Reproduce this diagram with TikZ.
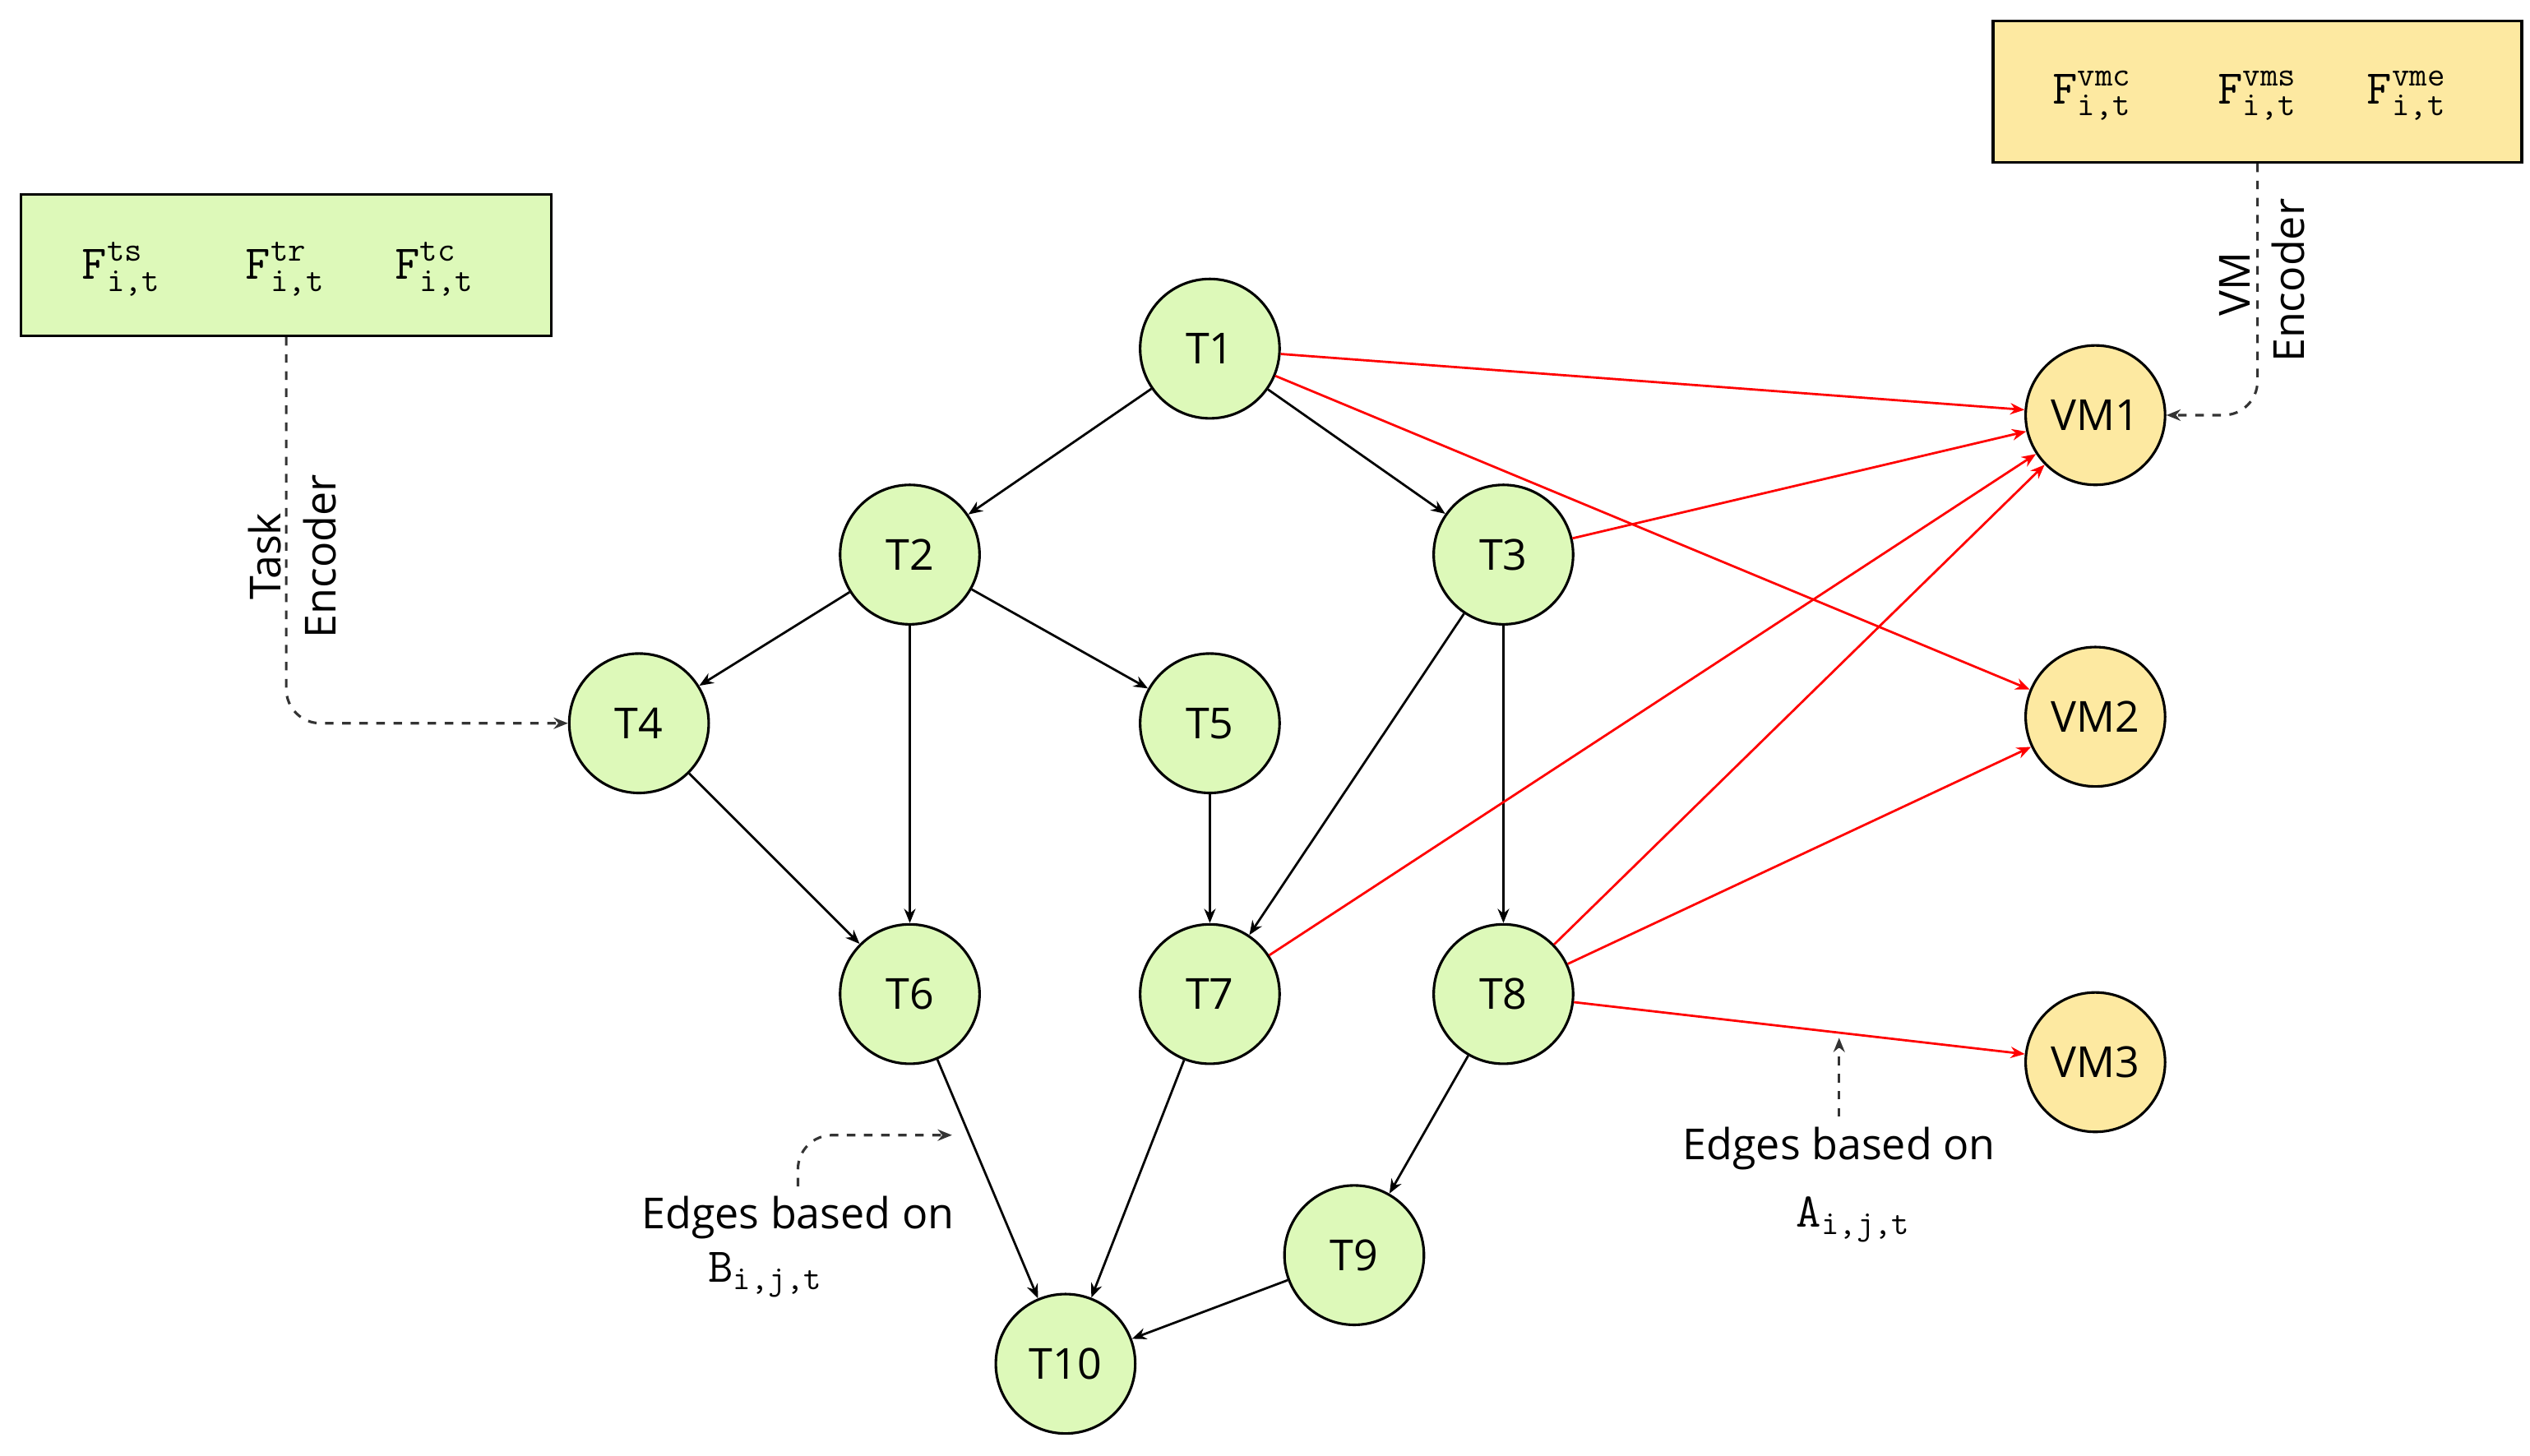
\documentclass[tikz,border=0pt]{standalone}
\usepackage{fontspec}
\setmainfont{Open Sans}
\newfontfamily\ttf{Latin Modern Mono}
\usetikzlibrary{arrows.meta}
\definecolor{gfill}{HTML}{DDF9B9}
\definecolor{yfill}{HTML}{FDE9A1}
\begin{document}
\begin{tikzpicture}[x=0.02cm,y=-0.02cm,
  tn/.style={circle,draw,line width=0.9pt,fill=gfill,minimum size=1.72cm,inner sep=0pt,font=\fontsize{15}{15}\selectfont},
  vn/.style={tn,fill=yfill},
  e/.style={-{Stealth[length=5pt,width=4pt]},line width=0.8pt},
  r/.style={e,red},
  d/.style={-{Stealth[length=5pt,width=4pt]},dashed,line width=0.9pt,black!80,rounded corners=12pt},
  lab/.style={font=\fontsize{15}{15}\selectfont},
  ff/.style={font=\ttf\fontsize{17}{17}\selectfont}]
\useasboundingbox (0,0) rectangle (1560,897.6);
\newcommand{\Fq}[1]{\textbf{F}$^{\raisebox{2pt}{\fontsize{12}{12}\selectfont #1}}_{\fontsize{12}{12}\selectfont i,t}$}
\node[draw,line width=1pt,fill=gfill,minimum width=6.54cm,minimum height=1.74cm] (gb) at (176.5,163.5) {};
\node[ff] (g1) at (75,166) {F$^{\mbox{\fontsize{12}{12}\selectfont ts}}_{\mbox{\fontsize{12}{12}\selectfont i,t}}$};
\node[ff] (g2) at (176,166) {F$^{\mbox{\fontsize{12}{12}\selectfont tr}}_{\mbox{\fontsize{12}{12}\selectfont i,t}}$};
\node[ff] (g3) at (268,166) {F$^{\mbox{\fontsize{12}{12}\selectfont tc}}_{\mbox{\fontsize{12}{12}\selectfont i,t}}$};
\node[draw,line width=1pt,fill=yfill,minimum width=6.52cm,minimum height=1.74cm] (yb) at (1392,56.5) {};
\node[ff] (y1) at (1290,59) {F$^{\mbox{\fontsize{12}{12}\selectfont vmc}}_{\mbox{\fontsize{12}{12}\selectfont i,t}}$};
\node[ff] (y2) at (1392,59) {F$^{\mbox{\fontsize{12}{12}\selectfont vms}}_{\mbox{\fontsize{12}{12}\selectfont i,t}}$};
\node[ff] (y3) at (1484,59) {F$^{\mbox{\fontsize{12}{12}\selectfont vme}}_{\mbox{\fontsize{12}{12}\selectfont i,t}}$};

\node[tn] (T1) at (746,215) {T1};
\node[tn] (T2) at (561,342) {T2};
\node[tn] (T3) at (927,342) {T3};
\node[tn] (T4) at (394,446) {T4};
\node[tn] (T5) at (746,446) {T5};
\node[tn] (T6) at (561,613) {T6};
\node[tn] (T7) at (746,613) {T7};
\node[tn] (T8) at (927,613) {T8};
\node[tn] (T9) at (835,774) {T9};
\node[tn] (T10) at (657,841) {T10};
\node[vn] (VM1) at (1292,256) {VM1};
\node[vn] (VM2) at (1292,442) {VM2};
\node[vn] (VM3) at (1292,655) {VM3};

\foreach \a/\b in {T1/T2,T1/T3,T2/T4,T2/T6,T2/T5,T4/T6,T5/T7,T3/T7,T3/T8,T6/T10,T7/T10,T8/T9,T9/T10}
  \draw[e] (\a) -- (\b);
\foreach \a/\b in {T1/VM1,T1/VM2,T3/VM1,T7/VM1,T8/VM1,T8/VM2,T8/VM3}
  \draw[r] (\a) -- (\b);

\draw[d] (gb.south) |- (T4.west);
\node[lab,rotate=90] (tk) at (163,343) {Task};
\node[lab,rotate=90] (enc1) at (197,343) {Encoder};
\draw[d] (yb.south) |- (VM1.east);
\node[lab,rotate=90] (vm) at (1378,175) {VM};
\node[lab,rotate=90] (enc2) at (1411,173) {Encoder};

\node[lab] (eb) at (492,751) {Edges based on};
\node[ff] (bl) at (472,786) {B$_{\mbox{\fontsize{12}{12}\selectfont i,j,t}}$};
\coordinate (bt) at (587,700);
\draw[d] (eb.north) |- (bt);
\node[lab] (ea) at (1134,708) {Edges based on};
\node[ff] (al) at (1143,752) {A$_{\mbox{\fontsize{12}{12}\selectfont i,j,t}}$};
\coordinate (at) at (1134,640);
\draw[d] (ea.north) -- (at);
\end{tikzpicture}
\end{document}
